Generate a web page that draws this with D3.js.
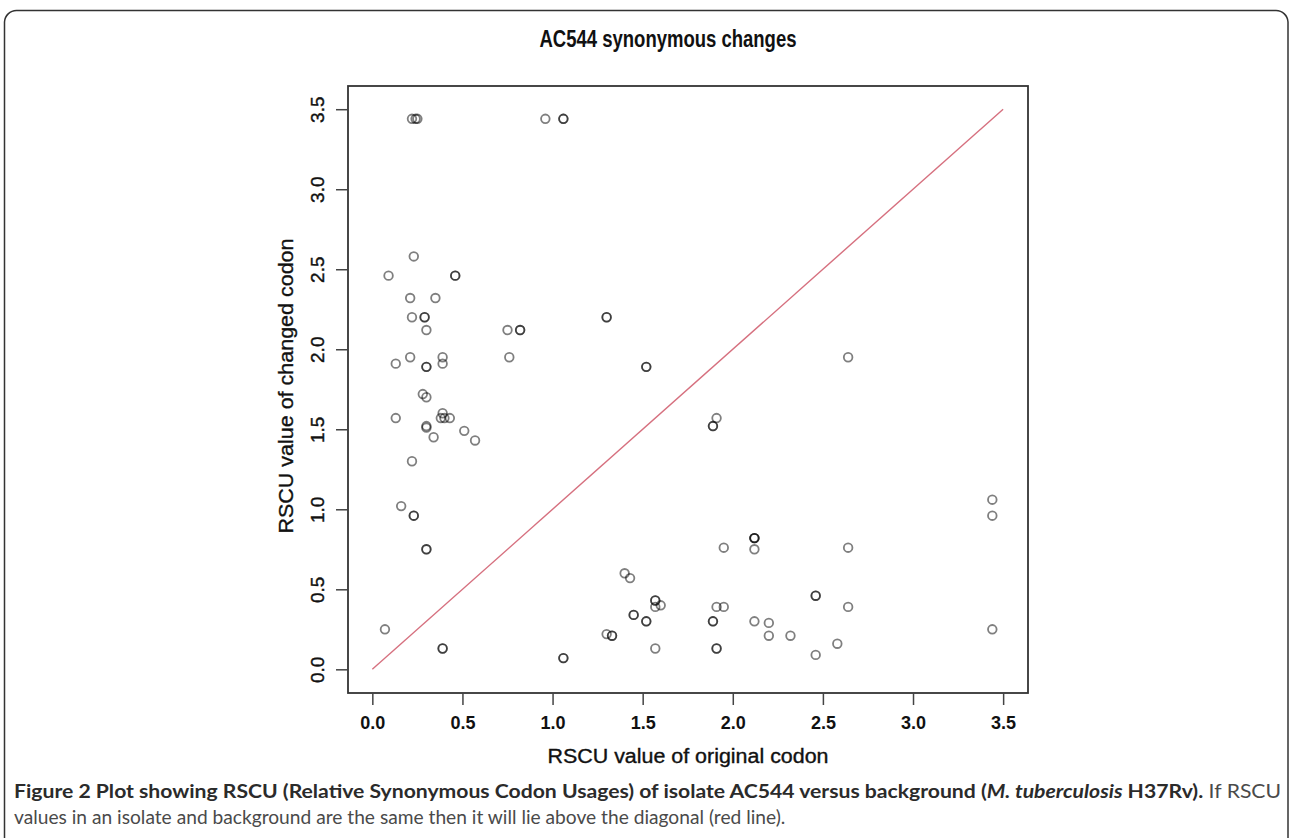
<!DOCTYPE html>
<html>
<head>
<meta charset="utf-8">
<script src="https://cdn.jsdelivr.net/npm/d3@7/dist/d3.min.js"></script>
<style>
  body { margin: 0; background: #fff; }
  svg { display: block; }
</style>
</head>
<body>
<script>
let w = 1292;
let h = 838;

let chartTitle = "AC544 synonymous changes";
let xLabel = "RSCU value of original codon";
let yLabel = "RSCU value of changed codon";

// RSCU of the original codon (x) and of the changed codon (y).
// repeated pairs are overlapping points (they show darker in the plot)
let origRSCU = [
  0.22, 0.24, 0.25, 0.96, 1.06, 1.06,
  0.23, 0.09, 0.46, 0.46, 0.21, 0.35, 0.22, 0.29, 0.29, 0.30,
  0.75, 0.82, 0.82, 0.76, 0.21, 0.13, 0.30, 0.30, 0.39, 0.39,
  1.30, 1.30, 1.52, 1.52, 2.64,
  0.28, 0.30, 0.13, 0.39, 0.40, 0.43, 0.38, 0.30, 0.30, 0.34, 0.51, 0.57,
  0.22, 0.16, 0.23, 0.23, 0.30, 0.30, 0.07, 0.39, 0.39, 1.06, 1.06,
  1.91, 1.89, 1.89, 3.44, 3.44, 2.12, 2.12, 2.12, 1.95, 2.12, 2.64,
  1.40, 1.43, 1.57, 1.57, 1.57, 1.60, 1.45, 1.45, 1.52, 1.52,
  1.91, 1.95, 1.89, 1.89, 2.12, 2.20, 2.20, 2.32, 2.46, 2.46, 2.64,
  2.46, 2.58, 3.44, 1.30, 1.33, 1.33, 1.57, 1.91, 1.91
];
let changedRSCU = [
  3.44, 3.44, 3.44, 3.44, 3.44, 3.44,
  2.58, 2.46, 2.46, 2.46, 2.32, 2.32, 2.20, 2.20, 2.20, 2.12,
  2.12, 2.12, 2.12, 1.95, 1.95, 1.91, 1.89, 1.89, 1.95, 1.91,
  2.20, 2.20, 1.89, 1.89, 1.95,
  1.72, 1.70, 1.57, 1.60, 1.57, 1.57, 1.57, 1.51, 1.52, 1.45, 1.49, 1.43,
  1.30, 1.02, 0.96, 0.96, 0.75, 0.75, 0.25, 0.13, 0.13, 0.07, 0.07,
  1.57, 1.52, 1.52, 1.06, 0.96, 0.82, 0.82, 0.82, 0.76, 0.75, 0.76,
  0.60, 0.57, 0.43, 0.43, 0.39, 0.40, 0.34, 0.34, 0.30, 0.30,
  0.39, 0.39, 0.30, 0.30, 0.30, 0.29, 0.21, 0.21, 0.46, 0.46, 0.39,
  0.09, 0.16, 0.25, 0.22, 0.21, 0.21, 0.13, 0.13, 0.13
];

let xTicks = [0, 0.5, 1, 1.5, 2, 2.5, 3, 3.5];
let yTicks = [0, 0.5, 1, 1.5, 2, 2.5, 3, 3.5];

// the red reference line y = x
let diagonal = [0, 3.5];

// caption pieces: [text, weight, style]
let captionLine1 = [
  ["Figure 2 Plot showing RSCU (Relative Synonymous Codon Usages) of isolate AC544 versus background (", "bold", "normal"],
  ["M. tuberculosis", "bold", "italic"],
  [" H37Rv).", "bold", "normal"],
  [" If RSCU", "normal", "normal"]
];
let captionLine2 = "values in an isolate and background are the same then it will lie above the diagonal (red line).";

let data = origRSCU.map((d, i) => ({ x: d, y: changedRSCU[i] }));

let svg = d3.select('body').append('svg').attr('width', w).attr('height', h);

// page frame with rounded top corners
svg.append('path')
  .attr('d', `M4.5,${h} V22 A12,12 0 0 1 16.5,10.5 H1276 A12,12 0 0 1 1288,22 V${h}`)
  .style('fill', 'none')
  .style('stroke', '#333')
  .style('stroke-width', 1.5);

// R style plot region (limits padded around 0..3.5)
let xScale = d3.scaleLinear().domain([-0.135, 3.638]).range([348, 1028]);
let yScale = d3.scaleLinear().domain([-0.148, 3.645]).range([693, 86]);

let fontR = "'Liberation Sans', Arial, Helvetica, sans-serif";

// title
svg.append('text')
  .attr('x', 668)
  .attr('y', 47)
  .attr('text-anchor', 'middle')
  .attr('textLength', 257)
  .attr('lengthAdjust', 'spacingAndGlyphs')
  .style('font-family', fontR)
  .style('font-weight', 'bold')
  .style('font-size', '23px')
  .style('fill', '#111')
  .text(chartTitle);

// diagonal
svg.append('line')
  .attr('x1', xScale(diagonal[0]))
  .attr('y1', yScale(diagonal[0]))
  .attr('x2', xScale(diagonal[1]))
  .attr('y2', yScale(diagonal[1]))
  .style('stroke', '#d6707f')
  .style('stroke-width', 1.4);

// points
svg.append('g')
  .selectAll('circle')
  .data(data)
  .enter()
  .append('circle')
  .attr('cx', (d) => xScale(d.x))
  .attr('cy', (d) => yScale(d.y))
  .attr('r', 4.3)
  .style('fill', 'none')
  .style('stroke', '#000')
  .style('stroke-opacity', 0.5)
  .style('stroke-width', 1.8);

// box
svg.append('rect')
  .attr('x', xScale.range()[0])
  .attr('y', yScale.range()[1])
  .attr('width', xScale.range()[1] - xScale.range()[0])
  .attr('height', yScale.range()[0] - yScale.range()[1])
  .style('fill', 'none')
  .style('stroke', '#333')
  .style('stroke-width', 1.8);

// x axis
let xAxis = d3.axisBottom(xScale)
  .tickValues(xTicks)
  .tickSize(12)
  .tickPadding(11)
  .tickFormat(d3.format('.1f'));
let xAxisGroup = svg.append('g')
  .attr('transform', `translate(0, ${yScale.range()[0]})`)
  .call(xAxis);
xAxisGroup.select('.domain').remove();
xAxisGroup.selectAll('line').style('stroke', '#444').style('stroke-width', 1.5);
xAxisGroup.selectAll('text')
  .style('font-family', fontR)
  .style('font-weight', 'bold')
  .style('font-size', '18px')
  .style('fill', '#111');

// y axis, labels turned like R does
let yAxis = d3.axisLeft(yScale)
  .tickValues(yTicks)
  .tickSize(12)
  .tickFormat(d3.format('.1f'));
let yAxisGroup = svg.append('g')
  .attr('transform', `translate(${xScale.range()[0]}, 0)`)
  .call(yAxis);
yAxisGroup.select('.domain').remove();
yAxisGroup.selectAll('line').style('stroke', '#444').style('stroke-width', 1.5);
yAxisGroup.selectAll('text')
  .attr('x', 0)
  .attr('dy', 0)
  .attr('text-anchor', 'middle')
  .attr('transform', 'translate(-24, 0) rotate(-90)')
  .style('font-family', fontR)
  .style('font-size', '19px')
  .style('stroke', '#111')
  .style('stroke-width', 0.4)
  .style('fill', '#111');

// axis titles
svg.append('text')
  .attr('x', 688)
  .attr('y', 763)
  .attr('text-anchor', 'middle')
  .attr('textLength', 281)
  .attr('lengthAdjust', 'spacingAndGlyphs')
  .style('font-family', fontR)
  .style('font-size', '19.5px')
  .style('stroke', '#111')
  .style('stroke-width', 0.35)
  .style('fill', '#111')
  .text(xLabel);

svg.append('text')
  .attr('transform', 'translate(293, 386) rotate(-90)')
  .attr('text-anchor', 'middle')
  .attr('textLength', 295)
  .attr('lengthAdjust', 'spacingAndGlyphs')
  .style('font-family', fontR)
  .style('font-size', '19.5px')
  .style('stroke', '#111')
  .style('stroke-width', 0.35)
  .style('fill', '#111')
  .text(yLabel);

// caption
let capFont = "Lato, 'Noto Sans', sans-serif";
let cap1 = svg.append('text')
  .attr('y', 798)
  .style('font-family', capFont)
  .style('font-size', '19px');
cap1.selectAll('tspan')
  .data(captionLine1)
  .enter()
  .append('tspan')
  .style('font-weight', (d) => d[1])
  .style('font-style', (d) => d[2])
  .style('fill', (d) => d[1] === 'bold' ? '#2b2b2b' : '#4a4a4a')
  .text((d) => d[0]);

let cap2 = svg.append('text')
  .attr('y', 824)
  .style('font-family', capFont)
  .style('font-size', '19px')
  .style('fill', '#4a4a4a')
  .text(captionLine2);

// squeeze each caption line to the width of the printed one
let fitLine = (sel, width) => {
  let s = width / sel.node().getComputedTextLength();
  sel.attr('transform', `translate(14, 0) scale(${s}, 1)`);
};
fitLine(cap1, 1268);
fitLine(cap2, 772);
</script>
</body>
</html>
